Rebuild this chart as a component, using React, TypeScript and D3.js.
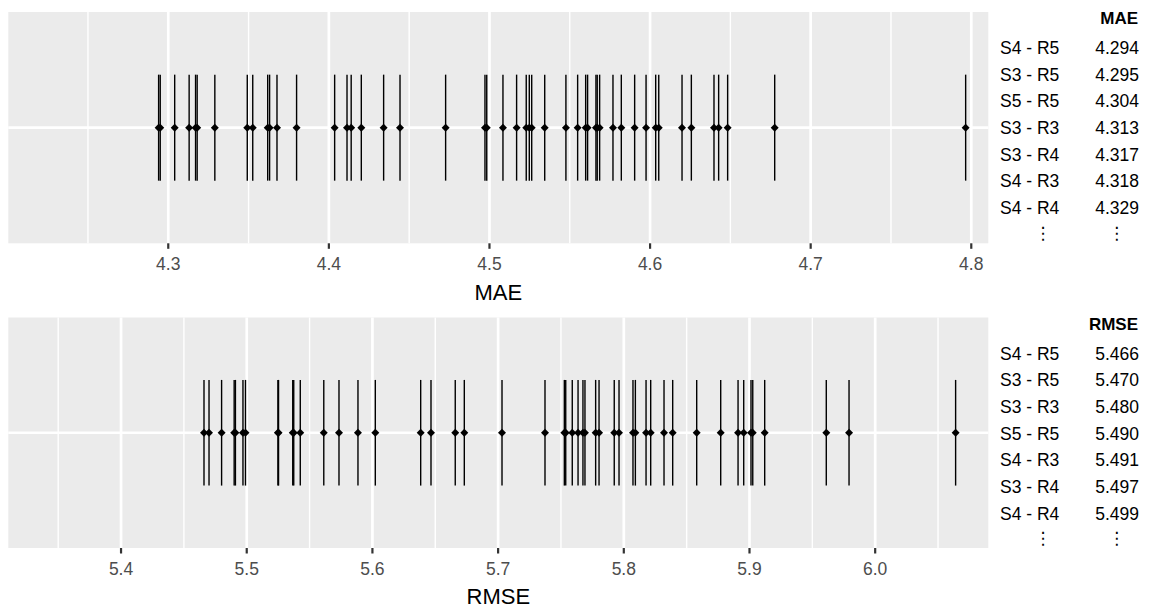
import React from "react";
import * as d3 from "d3";

// ---------- data ----------
const maeValues = [
  4.294, 4.295, 4.304, 4.313, 4.317, 4.318, 4.329, 4.3492, 4.3526, 4.3619, 4.3631, 4.3677,
  4.3799, 4.4036, 4.4113, 4.4139, 4.4202, 4.4341, 4.4443, 4.4727, 4.4972, 4.4983, 4.5084,
  4.5169, 4.5229, 4.5248, 4.5263, 4.5344, 4.5476, 4.5549, 4.5599, 4.5611, 4.5663, 4.5671,
  4.5686, 4.5769, 4.5821, 4.5904, 4.5975, 4.6035, 4.6054, 4.6199, 4.6257, 4.6398, 4.6427,
  4.6483, 4.6776, 4.7965,
];
const rmseValues = [
  5.466, 5.47, 5.48, 5.49, 5.491, 5.497, 5.499, 5.5248, 5.5253, 5.5366, 5.5374, 5.5426,
  5.5613, 5.5734, 5.5885, 5.6023, 5.6384, 5.6466, 5.6659, 5.6731, 5.7031, 5.7373, 5.7527,
  5.7538, 5.759, 5.7636, 5.7675, 5.7691, 5.7776, 5.7803, 5.7924, 5.7962, 5.8073, 5.8092,
  5.8177, 5.8214, 5.832, 5.8389, 5.858, 5.8771, 5.8909, 5.8954, 5.9012, 5.9026, 5.9121,
  5.9611, 5.9792, 6.064,
];
const maeTicks = [4.3, 4.4, 4.5, 4.6, 4.7, 4.8];
const maeMinor = [4.25, 4.35, 4.45, 4.55, 4.65, 4.75];
const rmseTicks = [5.4, 5.5, 5.6, 5.7, 5.8, 5.9, 6.0];
const rmseMinor = [5.35, 5.45, 5.55, 5.65, 5.75, 5.85, 5.95, 6.05];
const maeTopLabels = ["S4 - R5", "S3 - R5", "S5 - R5", "S3 - R3", "S3 - R4", "S4 - R3", "S4 - R4"];
const maeTopValues = [4.294, 4.295, 4.304, 4.313, 4.317, 4.318, 4.329];
const rmseTopLabels = ["S4 - R5", "S3 - R5", "S3 - R3", "S5 - R5", "S4 - R3", "S3 - R4", "S4 - R4"];
const rmseTopValues = [5.466, 5.47, 5.48, 5.49, 5.491, 5.497, 5.499];

// ---------- style / layout ----------
const FONT = "'Liberation Sans', Arial, Helvetica, sans-serif";
const PANEL_LEFT = 8.3;
const PANEL_RIGHT = 988.3;
const ERR_HALF = 0.275; // half height of the error bar in y-units (discrete axis 0.4..1.6)

type PanelProps = {
  values: number[];
  domain: [number, number];
  ticks: number[];
  minor: number[];
  top: number;
  bottom: number;
  title: string;
  tableLabels: string[];
  tableValues: number[];
};

function Panel(p: PanelProps) {
  const x = d3.scaleLinear().domain(p.domain).range([PANEL_LEFT, PANEL_RIGHT]);
  const y = d3.scaleLinear().domain([0.4, 1.6]).range([p.bottom, p.top]);
  const diamond = d3.symbol(d3.symbolSquare, 32)();
  const rowH = 26.67;
  const t0 = p.top - 2.2; // table anchor
  return (
    <g>
      <rect x={PANEL_LEFT} y={p.top} width={PANEL_RIGHT - PANEL_LEFT} height={p.bottom - p.top} fill="#EBEBEB" />
      {p.minor.map((m) => (
        <line key={"mi" + m} x1={x(m)} x2={x(m)} y1={p.top} y2={p.bottom} stroke="#fff" strokeWidth={1.4} />
      ))}
      {p.ticks.map((t) => (
        <line key={"ma" + t} x1={x(t)} x2={x(t)} y1={p.top} y2={p.bottom} stroke="#fff" strokeWidth={2.7} />
      ))}
      <line x1={PANEL_LEFT} x2={PANEL_RIGHT} y1={y(1)} y2={y(1)} stroke="#fff" strokeWidth={2.7} />
      {p.values.map((v, i) => (
        <line key={"e" + i} x1={x(v)} x2={x(v)} y1={y(1 - ERR_HALF)} y2={y(1 + ERR_HALF)} stroke="#000" strokeWidth={1.4} />
      ))}
      {p.values.map((v, i) => (
        <path key={"p" + i} d={diamond as string} transform={`translate(${x(v)},${y(1)}) rotate(45)`} fill="#000" />
      ))}
      {p.ticks.map((t) => (
        <g key={"t" + t}>
          <line x1={x(t)} x2={x(t)} y1={p.bottom} y2={p.bottom + 5.5} stroke="#333" strokeWidth={2.2} />
          <text x={x(t)} y={p.bottom + 27} textAnchor="middle" fontSize={17.5} fill="#4D4D4D" fontFamily={FONT}>
            {d3.format(".1f")(t)}
          </text>
        </g>
      ))}
      <text x={(PANEL_LEFT + PANEL_RIGHT) / 2} y={p.bottom + 56.2} textAnchor="middle" fontSize={22} fill="#000" fontFamily={FONT}>
        {p.title}
      </text>
      {/* side table */}
      <text x={1138} y={t0 + 14.5} textAnchor="end" fontSize={17} fontWeight="bold" fill="#000" fontFamily={FONT}>
        {p.title}
      </text>
      {p.tableLabels.map((l, i) => (
        <g key={"r" + i}>
          <text x={1000} y={t0 + 44.3 + i * rowH} fontSize={17.5} fill="#000" fontFamily={FONT}>
            {l}
          </text>
          <text x={1139} y={t0 + 44.3 + i * rowH} textAnchor="end" fontSize={17.5} fill="#000" fontFamily={FONT}>
            {d3.format(".3f")(p.tableValues[i])}
          </text>
        </g>
      ))}
      <text x={1043} y={t0 + 229} textAnchor="middle" fontSize={17.5} fill="#000" fontFamily="'DejaVu Sans', sans-serif">
        ⋮
      </text>
      <text x={1116.7} y={t0 + 229} textAnchor="middle" fontSize={17.5} fill="#000" fontFamily="'DejaVu Sans', sans-serif">
        ⋮
      </text>
    </g>
  );
}

export default function App() {
  return (
    <div style={{ position: "absolute", left: 0, top: 0 }}>
      <svg width={1156} height={608} style={{ display: "block", background: "#fff" }}>
        <Panel
          values={maeValues}
          domain={[4.2004, 4.8106]}
          ticks={maeTicks}
          minor={maeMinor}
          top={12}
          bottom={243.3}
          title="MAE"
          tableLabels={maeTopLabels}
          tableValues={maeTopValues}
        />
        <Panel
          values={rmseValues}
          domain={[5.3103, 6.09]}
          ticks={rmseTicks}
          minor={rmseMinor}
          top={317.5}
          bottom={548}
          title="RMSE"
          tableLabels={rmseTopLabels}
          tableValues={rmseTopValues}
        />
      </svg>
    </div>
  );
}
